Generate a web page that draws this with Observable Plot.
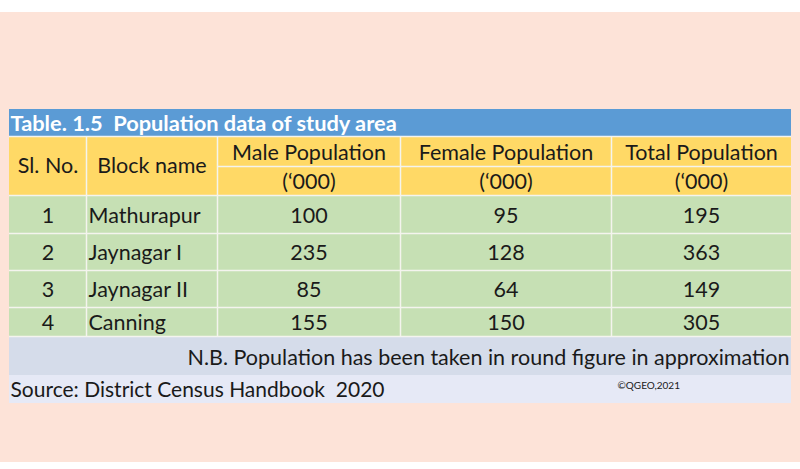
<!DOCTYPE html>
<html>
<head>
<meta charset="utf-8">
<script src="https://cdn.jsdelivr.net/npm/d3@7"></script>
<script src="https://cdn.jsdelivr.net/npm/@observablehq/plot@0.6"></script>
<style>
  html, body { margin: 0; padding: 0; background: #ffffff; }
  svg text { white-space: pre; }
</style>
</head>
<body>
<div id="chart"></div>
<script>
// ---- Data ----
const title = "Table. 1.5  Population data of study area";
const headers = ["Sl. No.", "Block name", "Male Population", "Female Population", "Total Population"];
const unitLabel = "(\u2018000)";
const slNo = [1, 2, 3, 4];
const blocks = ["Mathurapur", "Jaynagar I", "Jaynagar II", "Canning"];
const male = [100, 235, 85, 155];
const female = [95, 128, 64, 150];
const total = [195, 363, 149, 305];
const note = "N.B. Population has been taken in round figure in approximation";
const source = "Source: District Census Handbook  2020";
const credit = "\u00A9QGEO,2021";

// ---- Layout (positions / sizes / styles) ----
const W = 800, H = 469;
const colEdges = [9, 86, 217, 400, 611, 791];
const titleBand = [109, 136];
const headBands = [[137, 166], [166, 195]];
const rowEdges = [196, 233, 270, 307, 336];
const noteBand = [336, 375];
const sourceBand = [375, 403];
const font = "Lato, Carlito, Calibri, 'Open Sans', sans-serif";
const C = {
  page: "#fde3d8", blue: "#5b9bd5", yellow: "#ffd966", green: "#c6e0b4",
  note: "#d5dcea", source: "#e6e9f6", text: "#1a1a1a", line: "#f4f4ee"
};
const fs = 21.5;

const colCenter = j => (colEdges[j] + colEdges[j + 1]) / 2;
const rowCenter = i => (rowEdges[i] + rowEdges[i + 1]) / 2;

// Background rects
const bgRects = [
  {x1: 0, x2: W, y1: 12, y2: 462, fill: C.page},
  {x1: colEdges[0], x2: colEdges[5], y1: titleBand[0], y2: titleBand[1], fill: C.blue},
  {x1: colEdges[0], x2: colEdges[5], y1: headBands[0][0], y2: headBands[1][1], fill: C.yellow},
  {x1: colEdges[0], x2: colEdges[5], y1: rowEdges[0], y2: rowEdges[4], fill: C.green},
  {x1: colEdges[0], x2: colEdges[5], y1: noteBand[0], y2: noteBand[1], fill: C.note},
  {x1: colEdges[0], x2: colEdges[5], y1: sourceBand[0], y2: sourceBand[1], fill: C.source}
];

// Grid lines
const vLines = [];
for (let j = 1; j < 5; j++) vLines.push({x: colEdges[j], y1: headBands[0][0], y2: rowEdges[4]});
const hLines = [
  {y: titleBand[1], x1: colEdges[0], x2: colEdges[5]},
  {y: headBands[0][1], x1: colEdges[2], x2: colEdges[5]},
  {y: headBands[1][1], x1: colEdges[0], x2: colEdges[5]},
  {y: rowEdges[1], x1: colEdges[0], x2: colEdges[5]},
  {y: rowEdges[2], x1: colEdges[0], x2: colEdges[5]},
  {y: rowEdges[3], x1: colEdges[0], x2: colEdges[5]},
  {y: rowEdges[4], x1: colEdges[0], x2: colEdges[5]}
];

// Header text
const headerText = headers.map((h, j) => ({
  x: colCenter(j),
  y: j < 2 ? (headBands[0][0] + headBands[1][1]) / 2 : (headBands[0][0] + headBands[0][1]) / 2 + 1,
  text: h
}));
const unitText = [2, 3, 4].map(j => ({x: colCenter(j), y: (headBands[1][0] + headBands[1][1]) / 2 + 1, text: unitLabel}));

// Body cells
const bodyCenter = [];
const bodyLeft = [];
slNo.forEach((s, i) => {
  const y = rowCenter(i) + 1;
  bodyCenter.push({x: colCenter(0), y, text: String(s)});
  bodyLeft.push({x: colEdges[1] + 2, y, text: blocks[i]});
  bodyCenter.push({x: colCenter(2), y, text: String(male[i])});
  bodyCenter.push({x: colCenter(3), y, text: String(female[i])});
  bodyCenter.push({x: colCenter(4), y, text: String(total[i])});
});

const chart = Plot.plot({
  width: W, height: H,
  margin: 0,
  x: {domain: [0, W], range: [0, W], axis: null},
  y: {domain: [0, H], range: [0, H], axis: null},
  style: {background: "#ffffff", fontFamily: font},
  marks: [
    Plot.rect(bgRects, {x1: "x1", x2: "x2", y1: "y1", y2: "y2", fill: d => d.fill}),
    Plot.ruleX(vLines, {x: "x", y1: "y1", y2: "y2", stroke: C.line, strokeWidth: 1.5}),
    Plot.ruleY(hLines, {y: "y", x1: "x1", x2: "x2", stroke: C.line, strokeWidth: 1.5}),
    Plot.text([title], {x: colEdges[0] + 1, y: (titleBand[0] + titleBand[1]) / 2 + 1, text: d => d,
      textAnchor: "start", fill: "#ffffff", fontWeight: "bold", fontSize: 21.8, fontFamily: font}),
    Plot.text(headerText, {x: "x", y: "y", text: "text", fill: C.text, fontSize: fs, fontFamily: font}),
    Plot.text(unitText, {x: "x", y: "y", text: "text", fill: C.text, fontSize: fs, fontFamily: font}),
    Plot.text(bodyCenter, {x: "x", y: "y", text: "text", fill: C.text, fontSize: fs, fontFamily: font}),
    Plot.text(bodyLeft, {x: "x", y: "y", text: "text", textAnchor: "start", fill: C.text, fontSize: fs, fontFamily: font}),
    Plot.text([note], {x: colEdges[5] - 2, y: (noteBand[0] + noteBand[1]) / 2 + 2, text: d => d,
      textAnchor: "end", fill: C.text, fontSize: fs, fontFamily: font}),
    Plot.text([source], {x: colEdges[0] + 1, y: (sourceBand[0] + sourceBand[1]) / 2 + 1, text: d => d,
      textAnchor: "start", fill: C.text, fontSize: 21, fontFamily: font}),
    Plot.text([credit], {x: 617, y: 385, text: d => d,
      textAnchor: "start", fill: C.text, fontSize: 10, fontFamily: font})
  ]
});
document.getElementById("chart").appendChild(chart);
</script>
</body>
</html>
